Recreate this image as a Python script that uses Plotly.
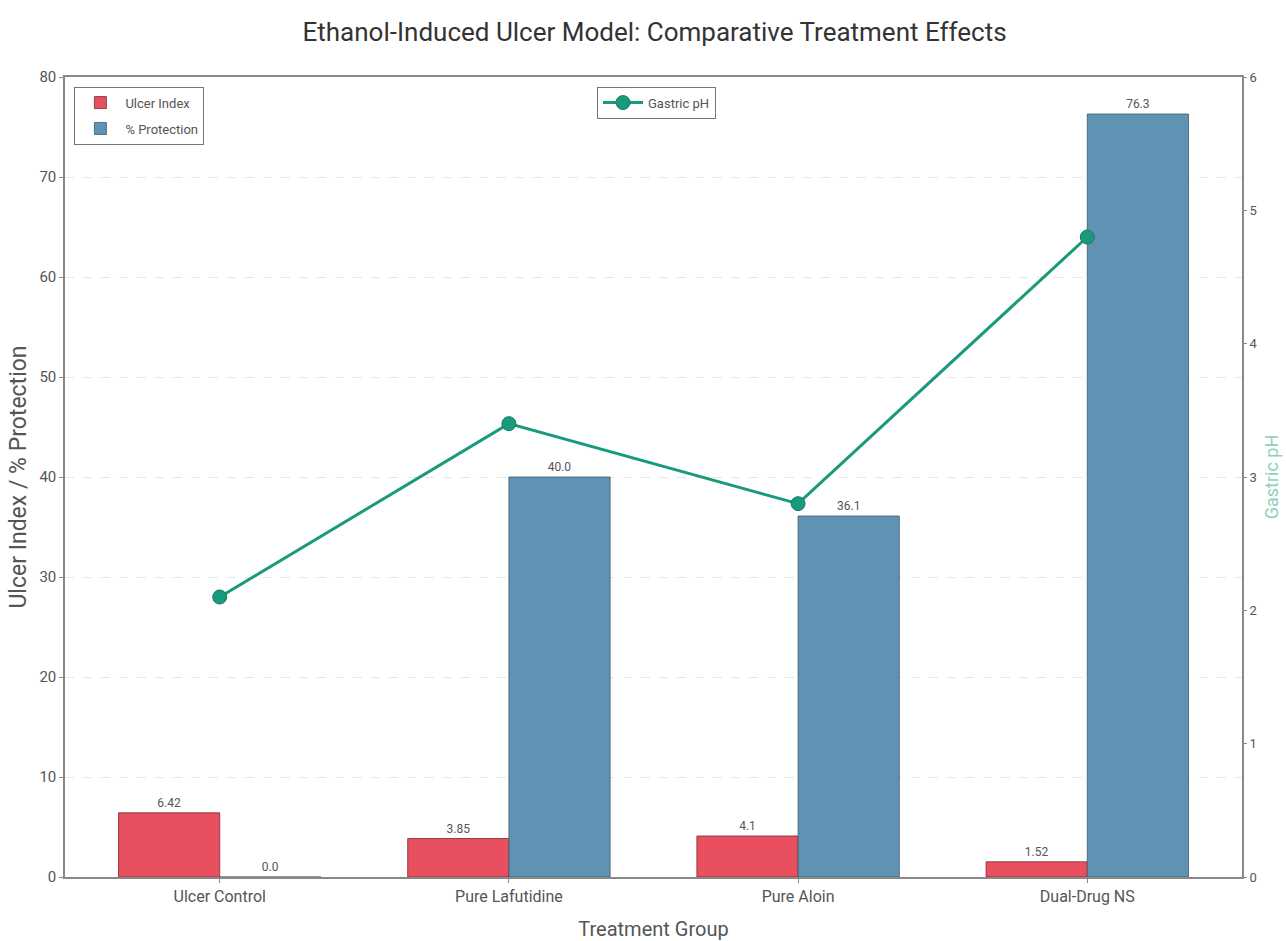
import plotly.graph_objects as go

# Treatment groups and measured outcomes
groups = ["Ulcer Control", "Pure Lafutidine", "Pure Aloin", "Dual-Drug NS"]
ulcer_index = [6.42, 3.85, 4.1, 1.52]
protection = [0.0, 40.0, 36.1, 76.3]
gastric_ph = [2.1, 3.4, 2.8, 4.8]

left_ticks = [0, 10, 20, 30, 40, 50, 60, 70, 80]
right_ticks = [0, 1, 2, 3, 4, 5, 6]

RED = "#E8505F"
BLUE = "#6092B4"
TEAL = "#1A9A7C"
FONT = "Roboto, sans-serif"
TXT = "#555555"

fig = go.Figure()

fig.add_trace(go.Bar(
    x=groups, y=ulcer_index, name="Ulcer Index",
    marker=dict(color=RED, line=dict(color="#7a2a33", width=0.8)),
    text=[str(v) for v in ulcer_index], textposition="outside",
    textfont=dict(size=12, color=TXT, family=FONT),
    cliponaxis=False, legend="legend", legendgroup="ui",
))
fig.add_trace(go.Bar(
    x=groups, y=protection, name="% Protection",
    marker=dict(color=BLUE, line=dict(color="#3d5b70", width=0.8)),
    text=[f"{v:.1f}" for v in protection], textposition="outside",
    textfont=dict(size=12, color=TXT, family=FONT),
    cliponaxis=False, legend="legend", legendgroup="pp",
))
fig.add_trace(go.Scatter(
    x=groups, y=gastric_ph, name="Gastric pH", yaxis="y2",
    mode="lines+markers",
    line=dict(color=TEAL, width=3),
    marker=dict(color=TEAL, size=14, line=dict(color="#157a63", width=1)),
    legend="legend2",
))

fig.update_layout(
    width=1286, height=941,
    margin=dict(l=65, r=44, t=77, b=64),
    paper_bgcolor="white", plot_bgcolor="white",
    font=dict(family=FONT, color=TXT, size=13),
    title=dict(text="Ethanol-Induced Ulcer Model: Comparative Treatment Effects",
               x=0.509, xanchor="center", y=0.966, yanchor="middle",
               font=dict(size=26, color="#333333", family=FONT)),
    barmode="group", bargap=0.3, bargroupgap=0,
    xaxis=dict(
        range=[-0.535, 3.535], showline=True, linecolor="#888888", linewidth=1.5,
        mirror=True, ticks="outside", ticklen=4, tickcolor="#888888",
        tickfont=dict(size=16, color=TXT), automargin=False,
        title=dict(text="Treatment Group", font=dict(size=20, color=TXT), standoff=18),
    ),
    yaxis=dict(
        range=[0, 80], tickvals=left_ticks, showline=True, linecolor="#888888",
        linewidth=1.5, mirror=True, ticks="outside", ticklen=4, tickcolor="#888888",
        showgrid=True, gridcolor="#e6e6e6", gridwidth=1, griddash="dash",
        zeroline=False, tickfont=dict(size=15, color=TXT), automargin=False,
        title=dict(text="Ulcer Index / % Protection", font=dict(size=23, color=TXT), standoff=6),
    ),
    yaxis2=dict(
        range=[0, 6], tickvals=right_ticks, overlaying="y", side="right",
        showgrid=False, zeroline=False, ticks="outside", ticklen=4, tickcolor="#888888",
        tickfont=dict(size=13, color=TXT), automargin=False,
        title=dict(text="Gastric pH", font=dict(size=18, color="#8fcfbf"), standoff=8),
    ),
    legend=dict(
        x=0.008, y=0.988, xanchor="left", yanchor="top",
        bgcolor="white", bordercolor="#777777", borderwidth=1,
        font=dict(size=13, color=TXT), itemwidth=40, tracegroupgap=6,
    ),
    legend2=dict(
        x=0.452, y=0.988, xanchor="left", yanchor="top",
        bgcolor="white", bordercolor="#777777", borderwidth=1,
        font=dict(size=13, color=TXT), itemwidth=40,
    ),
)

fig.write_html("out.html")
